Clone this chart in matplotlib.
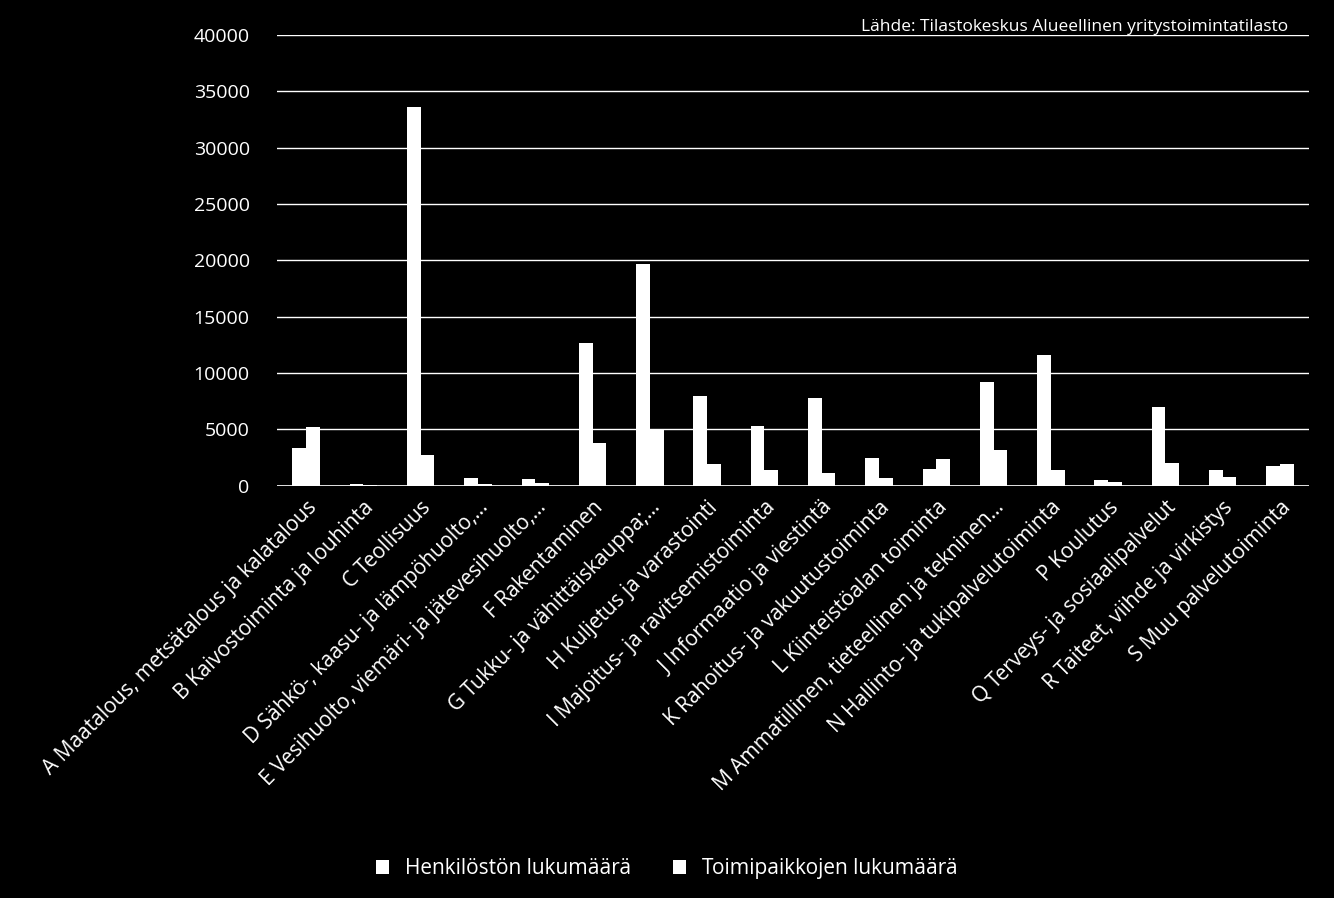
import matplotlib
matplotlib.use("Agg")
import matplotlib.pyplot as plt
import numpy as np

BG = "black"; FG = "white"

categories = [
    "A Maatalous, metsätalous ja kalatalous",
    "B Kaivostoiminta ja louhinta",
    "C Teollisuus",
    "D Sähkö-, kaasu- ja lämpöhuolto,…",
    "E Vesihuolto, viemäri- ja jätevesihuolto,…",
    "F Rakentaminen",
    "G Tukku- ja vähittäiskauppa;…",
    "H Kuljetus ja varastointi",
    "I Majoitus- ja ravitsemistoiminta",
    "J Informaatio ja viestintä",
    "K Rahoitus- ja vakuutustoiminta",
    "L Kiinteistöalan toiminta",
    "M Ammatillinen, tieteellinen ja tekninen…",
    "N Hallinto- ja tukipalvelutoiminta",
    "P Koulutus",
    "Q Terveys- ja sosiaalipalvelut",
    "R Taiteet, viihde ja virkistys",
    "S Muu palvelutoiminta",
]
henkilosto = [3400, 200, 33600, 700, 600, 12700, 19700, 8000, 5300, 7800,
              2500, 1500, 9200, 11600, 500, 7000, 1400, 1800]
toimipaikat = [5200, 100, 2700, 150, 250, 3800, 5000, 1900, 1400, 1100,
               650, 2400, 3200, 1400, 350, 2000, 750, 1900]

plt.rcParams["font.family"] = "Open Sans"
fig = plt.figure(figsize=(13.34, 8.98), dpi=100, facecolor=BG)
ax = fig.add_axes([0.208, 0.459, 0.773, 0.502], facecolor=BG)

x = np.arange(len(categories))
w = 0.24
ax.bar(x - w / 2, henkilosto, w, color=FG, label="Henkilöstön lukumäärä", zorder=3)
ax.bar(x + w / 2, toimipaikat, w, color=FG, label="Toimipaikkojen lukumäärä", zorder=3)

ax.set_xlim(-0.5, len(categories) - 0.5)
ax.set_ylim(0, 40000)
ax.set_yticks(range(0, 40001, 5000))
ax.grid(axis="y", color=FG, lw=1, zorder=0)
for s in ax.spines.values():
    s.set_visible(False)
ax.axhline(0, color=FG, lw=1.2, zorder=4)
ax.tick_params(colors=FG, length=0, labelsize=14)
ax.set_xticks(x)
ax.set_xticklabels(categories, rotation=45, ha="right", rotation_mode="anchor", fontsize=15)
ax.tick_params(axis="x", pad=8)
ax.tick_params(axis="y", pad=20)

ax.text(0.98, 1.035, "Lähde: Tilastokeskus Alueellinen yritystoimintatilasto",
        transform=ax.transAxes, ha="right", va="top", color=FG, fontsize=12.5)

fig.legend(loc="lower center", bbox_to_anchor=(0.5, 0.0), ncol=2, frameon=False,
           labelcolor=FG, fontsize=15, handlelength=0.6, handleheight=0.6, columnspacing=2)

fig.savefig("out.png", dpi=100, facecolor=BG)
